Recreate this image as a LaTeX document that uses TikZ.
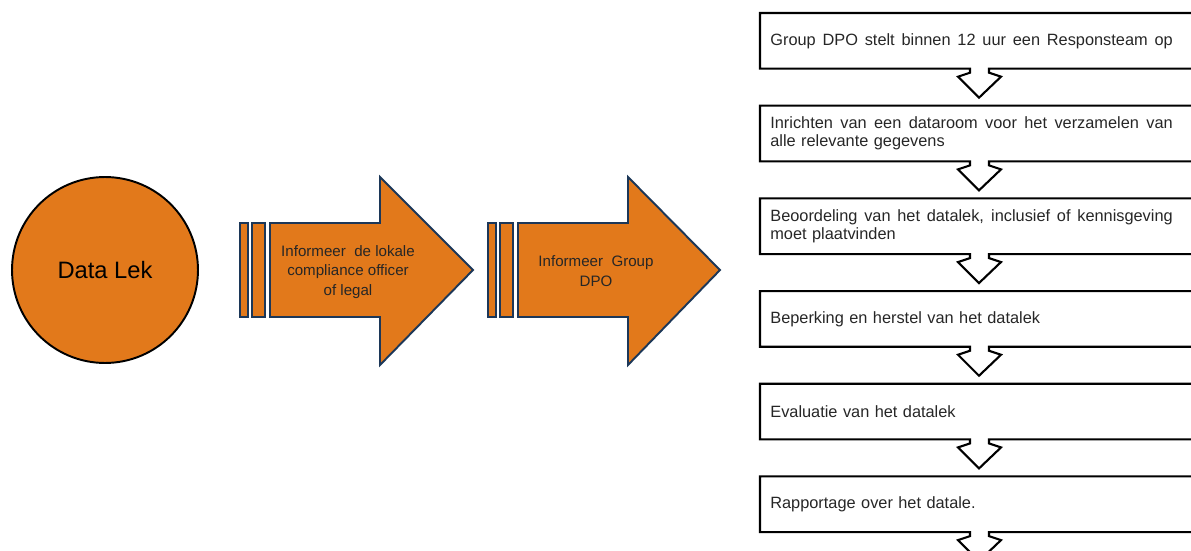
\documentclass[tikz,border=0pt]{standalone}
\usepackage{fontspec}
\setmainfont{Liberation Sans}
\newfontfamily\stepfont{Liberation Sans}[WordSpace=1.5]
\usetikzlibrary{positioning}
\usepackage{xcolor}

\definecolor{lekorange}{RGB}{226,121,27}
\definecolor{lekblue}{RGB}{28,55,88}

\newcommand{\fullline}[1]{\hbox to 8.05cm{\spaceskip=0.3em plus 1fil\relax #1}}

\begin{document}
\begin{tikzpicture}[x=0.02cm, y=-0.02cm, line join=miter]
  % ========================================================
  % 0. STYLES AND CANVAS
  % ========================================================
  \tikzset{
    bigarrow/.style={fill=lekorange, draw=lekblue, line width=1.1pt},
    arrowtext/.style={align=center, font=\fontsize{8.6}{11.3}\selectfont, text=black!85},
    stepbox/.style={minimum width=9.4cm, minimum height=1.1cm, text width=9.0cm,
      inner xsep=0.2cm, inner ysep=0pt, align=left,
      font=\stepfont\fontsize{9.3}{10.2}\selectfont, text=black!85},
    stepline/.style={draw=black, line width=1.2pt}
  }
  \clip (0,0) rectangle (1191,551);

  % ========================================================
  % 1. DATA LEK CIRCLE (Left Side)
  % ========================================================
  \node[circle, draw=black, line width=1.1pt, fill=lekorange, minimum size=3.72cm,
        font=\fontsize{13.5}{15}\selectfont] (lek) at (105,270) {Data Lek};

  % ========================================================
  % 2. ORANGE ARROWS WITH BARS
  % ========================================================
  % First arrow: lokale compliance officer
  \draw[bigarrow] (240,223) rectangle (248,317);
  \draw[bigarrow] (252,223) rectangle (265,317);
  \draw[bigarrow] (270,223) -- (380,223) -- (380,177) -- (473,270)
                  -- (380,365) -- (380,317) -- (270,317) -- cycle;
  \node[arrowtext] (lokaal) at (348,272) {Informeer\ \ de lokale\\compliance officer\\of legal};

  % Second arrow: Group DPO
  \draw[bigarrow] (488,223) rectangle (496,317);
  \draw[bigarrow] (500,223) rectangle (513,317);
  \draw[bigarrow] (518,223) -- (628,223) -- (628,177) -- (720,270)
                  -- (628,365) -- (628,317) -- (518,317) -- cycle;
  \node[arrowtext] (dpo) at (596,271) {Informeer\ \ Group\\DPO};

  % ========================================================
  % 3. STEP BOXES (Right Side)
  % ========================================================
  \node[stepbox, anchor=north west] (s1) at (760,13)
    {\fullline{Group DPO stelt binnen 12 uur een Responsteam op}};
  \node[stepbox, below=0.74cm of s1] (s2)
    {\fullline{Inrichten van een dataroom voor het verzamelen van}\\alle relevante gegevens};
  \node[stepbox, below=0.74cm of s2] (s3)
    {\fullline{Beoordeling van het datalek, inclusief of kennisgeving}\\moet plaatvinden};
  \node[stepbox, below=0.74cm of s3] (s4) {Beperking en herstel van het datalek};
  \node[stepbox, below=0.74cm of s4] (s5) {Evaluatie van het datalek};
  \node[stepbox, below=0.74cm of s5] (s6) {Rapportage over het datale.};

  % ========================================================
  % 4. BOX OUTLINES WITH DOWNWARD NOTCH
  % ========================================================
  \draw[stepline] (s1.south west) -- ++(210,0) -- ++(0,4) -- ++(-12,4) -- ++(21,21) -- ++(22,-21)
    -- ++(-12,-4) -- ++(0,-4) -- (s1.south east) -- (s1.north east) -- (s1.north west) -- cycle;
  \draw[stepline] (s2.south west) -- ++(210,0) -- ++(0,4) -- ++(-12,4) -- ++(21,21) -- ++(22,-21)
    -- ++(-12,-4) -- ++(0,-4) -- (s2.south east) -- (s2.north east) -- (s2.north west) -- cycle;
  \draw[stepline] (s3.south west) -- ++(210,0) -- ++(0,4) -- ++(-12,4) -- ++(21,21) -- ++(22,-21)
    -- ++(-12,-4) -- ++(0,-4) -- (s3.south east) -- (s3.north east) -- (s3.north west) -- cycle;
  \draw[stepline] (s4.south west) -- ++(210,0) -- ++(0,4) -- ++(-12,4) -- ++(21,21) -- ++(22,-21)
    -- ++(-12,-4) -- ++(0,-4) -- (s4.south east) -- (s4.north east) -- (s4.north west) -- cycle;
  \draw[stepline] (s5.south west) -- ++(210,0) -- ++(0,4) -- ++(-12,4) -- ++(21,21) -- ++(22,-21)
    -- ++(-12,-4) -- ++(0,-4) -- (s5.south east) -- (s5.north east) -- (s5.north west) -- cycle;
  \draw[stepline] (s6.south west) -- ++(210,0) -- ++(0,4) -- ++(-12,4) -- ++(21,21) -- ++(22,-21)
    -- ++(-12,-4) -- ++(0,-4) -- (s6.south east) -- (s6.north east) -- (s6.north west) -- cycle;
\end{tikzpicture}
\end{document}
